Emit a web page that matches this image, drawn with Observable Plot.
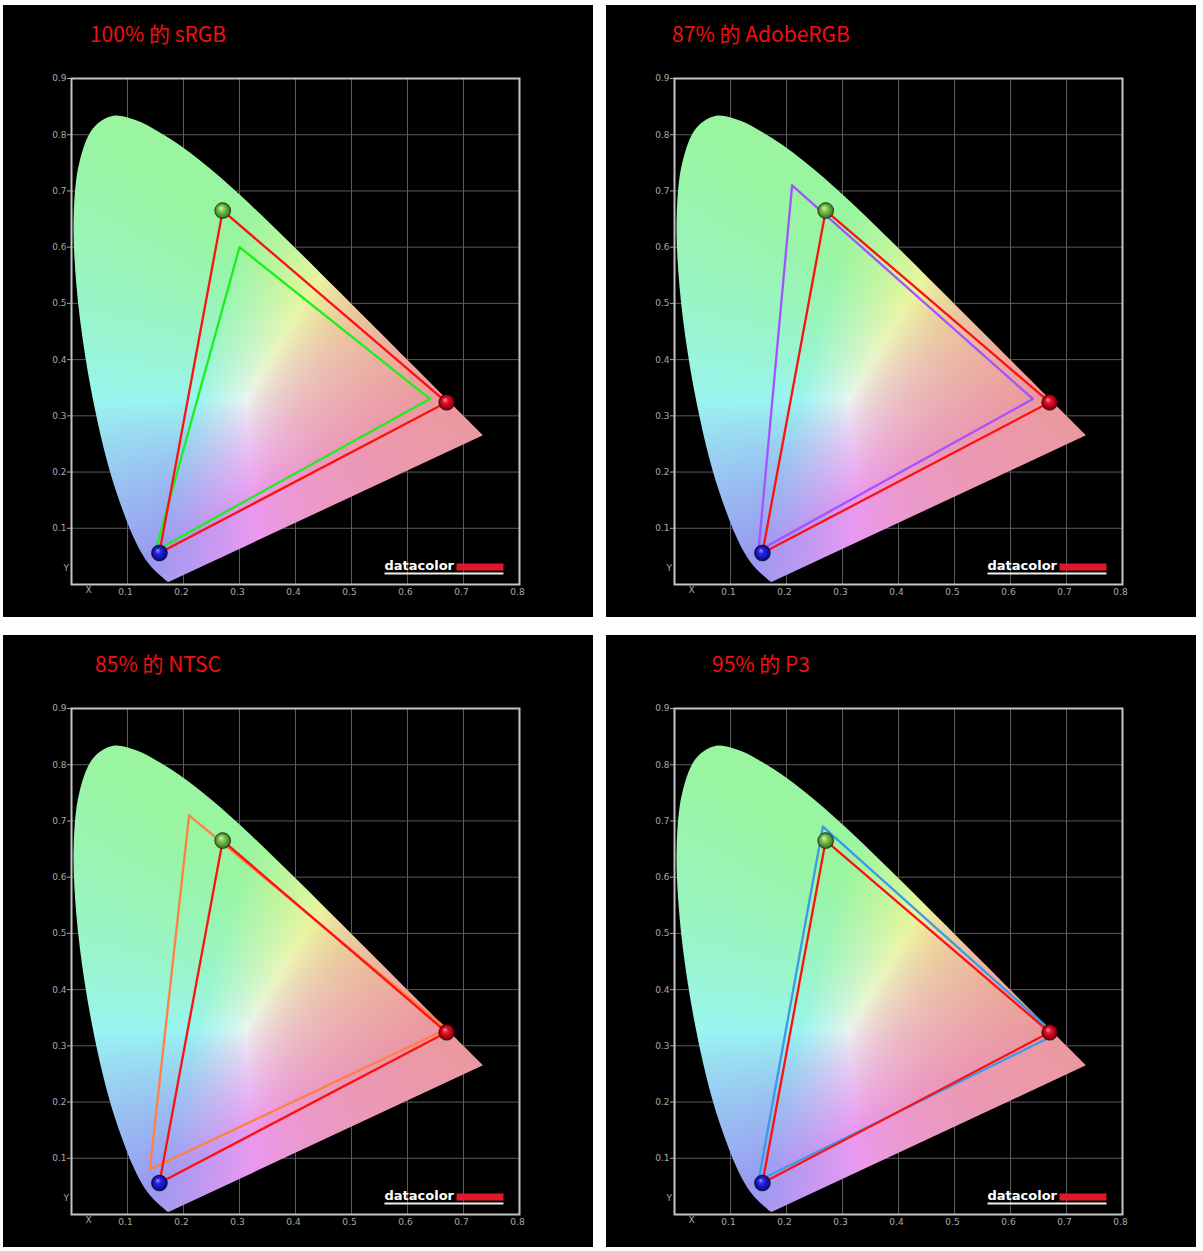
<!DOCTYPE html>
<html>
<head>
<meta charset="utf-8">
<script src="https://cdn.jsdelivr.net/npm/d3@7"></script>
<script src="https://cdn.jsdelivr.net/npm/@observablehq/plot@0.6"></script>
<style>
  html, body { margin: 0; padding: 0; background: #fff; }
  body { width: 1203px; height: 1251px; position: relative; overflow: hidden; }
  .panel { position: absolute; width: 590px; height: 612px; background: #000; }
  .title { width: 310px; height: 50px; box-sizing: border-box; padding-top: 18px; text-align: center;
           color: #f01010; font: 21px/1 "Noto Sans CJK SC", "Noto Sans", sans-serif; white-space: nowrap; }
  .panel svg { display: block; }
</style>
</head>
<body>
<svg width="0" height="0" style="position:absolute">
  <defs>
    <radialGradient id="gRed" cx="50%" cy="50%" r="50%" fx="38%" fy="32%">
      <stop offset="0" stop-color="#ff9a9a"/>
      <stop offset="0.35" stop-color="#e8122a"/>
      <stop offset="0.8" stop-color="#a00014"/>
      <stop offset="1" stop-color="#5a0008"/>
    </radialGradient>
    <radialGradient id="gGreen" cx="50%" cy="50%" r="50%" fx="38%" fy="32%">
      <stop offset="0" stop-color="#d4f5a8"/>
      <stop offset="0.35" stop-color="#86cc56"/>
      <stop offset="0.8" stop-color="#4c8c2c"/>
      <stop offset="1" stop-color="#2a5418"/>
    </radialGradient>
    <radialGradient id="gBlue" cx="50%" cy="50%" r="50%" fx="38%" fy="32%">
      <stop offset="0" stop-color="#9a9aff"/>
      <stop offset="0.35" stop-color="#2626e0"/>
      <stop offset="0.8" stop-color="#1010a0"/>
      <stop offset="1" stop-color="#06065a"/>
    </radialGradient>
  </defs>
</svg>
<script>
// ---------- data ----------
const panelTitles = ["100% 的 sRGB", "87% 的 AdobeRGB", "85% 的 NTSC", "95% 的 P3"];

// measured display primaries (R, G, B)
const measuredX = [0.670, 0.270, 0.157];
const measuredY = [0.324, 0.665, 0.056];
const measuredFill = ["url(#gRed)", "url(#gGreen)", "url(#gBlue)"];

// reference gamuts (R, G, B) per panel
const standardNames = ["sRGB", "AdobeRGB", "NTSC", "P3"];
const standardX = [[0.64, 0.30, 0.15], [0.64, 0.21, 0.15], [0.67, 0.21, 0.14], [0.68, 0.265, 0.15]];
const standardY = [[0.33, 0.60, 0.06], [0.33, 0.71, 0.06], [0.33, 0.71, 0.08], [0.32, 0.69, 0.06]];
const standardColors = ["#1cf01c", "#a452ff", "#ff8040", "#3a9ae8"];
const measuredColor = "#ff1010";

// CIE 1931 spectral locus, 380–700 nm in 5 nm steps
const locusX = [0.1741,0.1740,0.1738,0.1736,0.1733,0.1730,0.1726,0.1721,0.1714,0.1703,0.1689,0.1669,0.1644,0.1611,0.1566,0.1510,0.1440,0.1355,0.1241,0.1096,0.0913,0.0687,0.0454,0.0235,0.0082,0.0039,0.0139,0.0389,0.0743,0.1142,0.1547,0.1929,0.2296,0.2658,0.3016,0.3373,0.3731,0.4087,0.4441,0.4788,0.5125,0.5448,0.5752,0.6029,0.6270,0.6482,0.6658,0.6801,0.6915,0.7006,0.7079,0.7140,0.7190,0.7230,0.7260,0.7283,0.7300,0.7311,0.7320,0.7327,0.7334,0.7340,0.7344,0.7346,0.7347];
const locusY = [0.0050,0.0050,0.0049,0.0049,0.0048,0.0048,0.0048,0.0048,0.0051,0.0058,0.0069,0.0086,0.0109,0.0138,0.0177,0.0227,0.0297,0.0399,0.0578,0.0868,0.1327,0.2007,0.2950,0.4127,0.5384,0.6548,0.7502,0.8120,0.8338,0.8262,0.8059,0.7816,0.7543,0.7243,0.6923,0.6589,0.6245,0.5896,0.5547,0.5202,0.4866,0.4544,0.4242,0.3965,0.3725,0.3514,0.3340,0.3197,0.3083,0.2993,0.2920,0.2859,0.2809,0.2770,0.2740,0.2717,0.2700,0.2689,0.2680,0.2673,0.2666,0.2660,0.2656,0.2654,0.2653];

const xTicks = [0.1, 0.2, 0.3, 0.4, 0.5, 0.6, 0.7, 0.8];
const yTicks = [0.1, 0.2, 0.3, 0.4, 0.5, 0.6, 0.7, 0.8, 0.9];
const xGrid = [0.1, 0.2, 0.3, 0.4, 0.5, 0.6, 0.7];
const yGrid = [0.1, 0.2, 0.3, 0.4, 0.5, 0.6, 0.7, 0.8];

const panelPos = [[3, 5], [606, 5], [3, 635], [606, 635]];

// ---------- helpers ----------
const locus = locusX.map((x, i) => ({x, y: locusY[i]}));
const hiC = [0.92, 0.96, 0.945], loC = [0.6, 0.6, 0.625];
function chromaColor(x, y) {
  if (y <= 0.001) return "rgb(0,0,0)";
  const X = x / y, Z = (1 - x - y) / y;
  let r = 3.2406 * X - 1.5372 - 0.4986 * Z;
  let g = -0.9689 * X + 1.8758 + 0.0415 * Z;
  let b = 0.0557 * X - 0.2040 + 1.0570 * Z;
  r = Math.max(0, r); g = Math.max(0, g); b = Math.max(0, b);
  const m = Math.max(r, g, b) || 1;
  const c = [r / m, g / m, b / m].map((v, i) => Math.round(255 * (loC[i] + (hiC[i] - loC[i]) * Math.pow(v, 0.85))));
  return `rgb(${c[0]},${c[1]},${c[2]})`;
}

const SVGNS = "http://www.w3.org/2000/svg";

panelTitles.forEach((title, k) => {
  const panel = document.createElement("div");
  panel.className = "panel";
  panel.style.left = panelPos[k][0] + "px";
  panel.style.top = panelPos[k][1] + "px";
  const t = document.createElement("div");
  t.className = "title";
  t.textContent = title;
  panel.appendChild(t);

  const std = standardX[k].map((x, i) => ({x, y: standardY[k][i]}));
  const meas = measuredX.map((x, i) => ({x, y: measuredY[i], fill: measuredFill[i]}));

  const chart = Plot.plot({
    width: 590,
    height: 562,
    marginTop: 23,
    marginBottom: 33,
    marginLeft: 68,
    marginRight: 74,
    x: {domain: [0, 0.8]},
    y: {domain: [0, 0.9]},
    color: {type: "identity"},
    style: {background: "#000", color: "#a8a8a8", fontFamily: "DejaVu Sans, sans-serif"},
    marks: [
      Plot.gridX({ticks: xGrid, stroke: "#5a5a5a", strokeOpacity: 1, strokeWidth: 1}),
      Plot.gridY({ticks: yGrid, stroke: "#5a5a5a", strokeOpacity: 1, strokeWidth: 1}),
      Plot.raster({fill: chromaColor, x1: 0, x2: 0.8, y1: 0, y2: 0.9, pixelSize: 1, className: "locus-fill"}),
      Plot.line(locus, {x: "x", y: "y", curve: "catmull-rom", stroke: "none", className: "locus-edge"}),
      Plot.line(std, {x: "x", y: "y", curve: "linear-closed", stroke: standardColors[k], strokeWidth: 2.3}),
      Plot.line(meas, {x: "x", y: "y", curve: "linear-closed", stroke: measuredColor, strokeWidth: 2.3}),
      Plot.dot(meas, {x: "x", y: "y", r: 8, fill: "fill", stroke: "rgba(0,0,0,0.45)", strokeWidth: 1}),
      // datacolor logo
      Plot.frame({fill: "#e3172a", stroke: null, insetLeft: 385, insetRight: 16, insetTop: 485, insetBottom: 14}),
      Plot.frame({fill: "#f0f0f0", stroke: null, insetLeft: 313, insetRight: 16, insetTop: 494, insetBottom: 10}),
      Plot.text(["datacolor"], {text: d => d, frameAnchor: "bottom-right", textAnchor: "start", lineAnchor: "bottom",
        dx: -135, dy: -15, fill: "#ffffff", fontSize: 13, fontWeight: "bold"}),
      Plot.frame({stroke: "#c4c4c4", strokeWidth: 2}),
      Plot.axisX({ticks: xTicks, tickSize: 0, tickPadding: 4, fontSize: 9, label: null, tickFormat: d => d.toFixed(1), dx: -2}),
      Plot.axisY({ticks: yTicks, tickSize: 4, tickPadding: 1, fontSize: 9, label: null, tickFormat: d => d.toFixed(1)}),
      Plot.text(["X"], {text: d => d, frameAnchor: "bottom-left", dx: 14, dy: 8, fill: "#a8a8a8", fontSize: 9}),
      Plot.text(["Y"], {text: d => d, frameAnchor: "bottom-left", dx: -8, dy: -14, fill: "#a8a8a8", fontSize: 9})
    ]
  });

  // clip the chromaticity raster to the (smoothed) spectral locus drawn by Plot;
  // the open curve closes with a straight line of purples
  const edgeG = chart.querySelector("g.locus-edge");
  const edgePath = edgeG && edgeG.querySelector("path");
  const fillG = chart.querySelector("g.locus-fill");
  if (edgePath && fillG) {
    let defs = chart.querySelector("defs");
    if (!defs) { defs = document.createElementNS(SVGNS, "defs"); chart.insertBefore(defs, chart.firstChild); }
    const cp = document.createElementNS(SVGNS, "clipPath");
    cp.setAttribute("id", "locusClip" + k);
    const p = document.createElementNS(SVGNS, "path");
    p.setAttribute("d", edgePath.getAttribute("d") + "Z");
    const tr = edgeG.getAttribute("transform");
    if (tr) p.setAttribute("transform", tr);
    cp.appendChild(p);
    defs.appendChild(cp);
    const wrap = document.createElementNS(SVGNS, "g");
    wrap.setAttribute("clip-path", `url(#locusClip${k})`);
    fillG.parentNode.insertBefore(wrap, fillG);
    wrap.appendChild(fillG);
  }

  panel.appendChild(chart);
  document.body.appendChild(panel);
});
</script>
</body>
</html>
